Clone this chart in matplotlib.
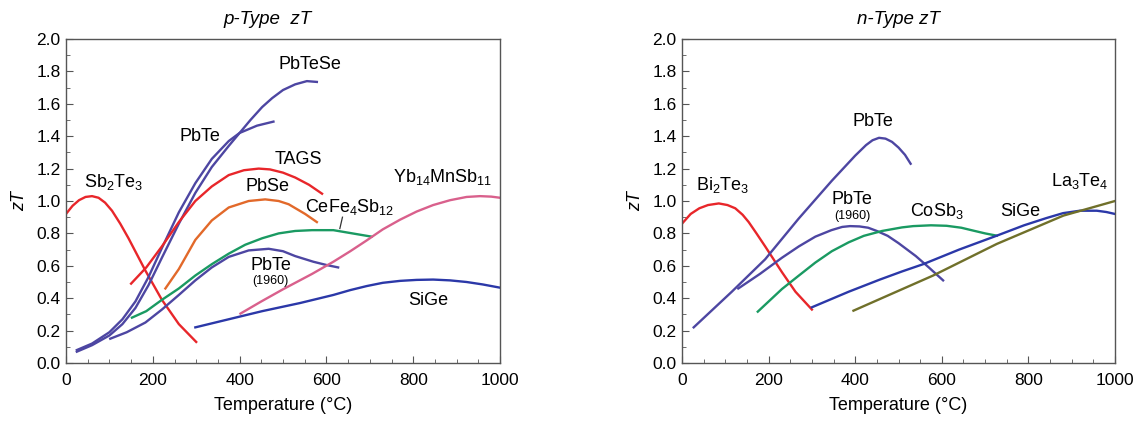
import matplotlib
matplotlib.use("Agg")
import matplotlib.pyplot as plt
from matplotlib.ticker import MultipleLocator, FormatStrFormatter

plt.rcParams['font.family'] = ['Liberation Sans', 'DejaVu Sans']
plt.rcParams['mathtext.fontset'] = 'custom'
plt.rcParams['mathtext.rm'] = 'Liberation Sans'
plt.rcParams['mathtext.it'] = 'Liberation Sans:italic'

# ---- p-type curves: temperature (C) and zT ----
sb2te3_t = [0, 15, 30, 45, 60, 75, 90, 106, 125, 144, 183, 221, 260, 300]
sb2te3_z = [0.92, 0.97, 1.005, 1.025, 1.03, 1.02, 0.99, 0.94, 0.86, 0.77, 0.57, 0.39,
            0.24, 0.13]

pbtese_t = [25, 60, 100, 130, 160, 190, 221, 260, 298, 336, 375, 400, 425, 452, 475,
            500, 528, 555, 578]
pbtese_z = [0.07, 0.11, 0.17, 0.24, 0.34, 0.48, 0.65, 0.86, 1.05, 1.21, 1.34, 1.42,
            1.50, 1.58, 1.635, 1.685, 1.72, 1.74, 1.735]

pbte_p_t = [25, 60, 100, 130, 160, 190, 221, 260, 298, 336, 375, 400, 440, 478]
pbte_p_z = [0.08, 0.12, 0.19, 0.27, 0.38, 0.53, 0.71, 0.93, 1.11, 1.26, 1.37, 1.42,
            1.465, 1.49]

tags_t = [150, 185, 221, 260, 298, 336, 375, 410, 444, 470, 500, 528, 560, 590]
tags_z = [0.49, 0.59, 0.72, 0.87, 1.00, 1.09, 1.16, 1.19, 1.20, 1.195, 1.175, 1.145,
          1.10, 1.045]

pbse_t = [229, 260, 298, 336, 375, 421, 459, 490, 513, 551, 578]
pbse_z = [0.46, 0.58, 0.76, 0.88, 0.96, 1.00, 1.01, 1.00, 0.98, 0.92, 0.87]

cefe_t = [152, 185, 221, 260, 298, 336, 375, 413, 452, 490, 528, 567, 616, 660, 704]
cefe_z = [0.28, 0.32, 0.39, 0.46, 0.54, 0.61, 0.675, 0.73, 0.77, 0.80, 0.815, 0.82,
          0.82, 0.80, 0.78]

pbte60_p_t = [102, 140, 183, 221, 260, 298, 336, 375, 421, 467, 500, 528, 570, 600, 627]
pbte60_p_z = [0.15, 0.19, 0.25, 0.33, 0.42, 0.51, 0.59, 0.655, 0.695, 0.705, 0.69,
              0.66, 0.625, 0.605, 0.59]

yb_t = [402, 450, 500, 567, 616, 655, 693, 730, 770, 808, 846, 885, 923, 954, 980, 1000]
yb_z = [0.305, 0.38, 0.455, 0.55, 0.625, 0.69, 0.757, 0.825, 0.885, 0.935, 0.975,
        1.005, 1.025, 1.03, 1.027, 1.02]

sige_p_t = [298, 375, 452, 539, 616, 655, 693, 730, 770, 808, 846, 885, 923, 960, 1000]
sige_p_z = [0.22, 0.27, 0.32, 0.37, 0.42, 0.45, 0.475, 0.495, 0.507, 0.513, 0.515,
            0.51, 0.50, 0.485, 0.465]

# ---- n-type curves ----
bi2te3_t = [0, 20, 40, 60, 85, 105, 123, 140, 154, 172, 192, 231, 262, 300]
bi2te3_z = [0.86, 0.92, 0.955, 0.975, 0.985, 0.975, 0.955, 0.915, 0.87, 0.80, 0.72,
            0.56, 0.44, 0.33]

pbte_n_t = [27, 115, 192, 269, 346, 400, 425, 440, 455, 470, 485, 500, 515, 528]
pbte_n_z = [0.22, 0.44, 0.64, 0.89, 1.125, 1.28, 1.345, 1.375, 1.39, 1.385, 1.365,
            1.33, 1.285, 1.23]

pbte60_n_t = [130, 180, 231, 270, 308, 345, 370, 388, 410, 430, 450, 475, 500, 540,
              570, 603]
pbte60_n_z = [0.46, 0.55, 0.65, 0.72, 0.78, 0.82, 0.84, 0.845, 0.843, 0.835, 0.815,
              0.785, 0.74, 0.66, 0.59, 0.51]

cosb_t = [175, 231, 270, 308, 346, 385, 420, 462, 508, 534, 575, 611, 645, 673, 700, 727]
cosb_z = [0.317, 0.457, 0.54, 0.62, 0.69, 0.745, 0.785, 0.815, 0.837, 0.845, 0.85,
          0.847, 0.835, 0.817, 0.80, 0.786]

sige_n_t = [300, 385, 457, 508, 557, 640, 727, 790, 842, 880, 919, 958, 980, 1000]
sige_n_z = [0.344, 0.44, 0.515, 0.565, 0.61, 0.70, 0.786, 0.85, 0.895, 0.925, 0.94,
            0.94, 0.932, 0.92]

la_t = [396, 457, 580, 727, 881, 1000]
la_z = [0.323, 0.395, 0.54, 0.735, 0.91, 1.00]

red = '#e8262a'
purple = '#4d46a2'
blue = '#2b38a8'
orange = '#e2692a'
green = '#1a9a62'
pink = '#d9608c'
olive = '#70702a'

fig = plt.figure(figsize=(11.39, 4.23), dpi=100)
ax1 = fig.add_axes([66 / 1139, 60 / 423, 434 / 1139, 324 / 423])
ax2 = fig.add_axes([682 / 1139, 60 / 423, 433 / 1139, 324 / 423])


def style(ax):
    ax.set_xlim(0, 1000)
    ax.set_ylim(0, 2.0)
    ax.xaxis.set_major_locator(MultipleLocator(200))
    ax.xaxis.set_minor_locator(MultipleLocator(50))
    ax.yaxis.set_major_locator(MultipleLocator(0.2))
    ax.yaxis.set_minor_locator(MultipleLocator(0.1))
    ax.yaxis.set_major_formatter(FormatStrFormatter('%.1f'))
    ax.tick_params(which='both', direction='in', labelsize=12.5, color='#555555',
                   top=False, right=False)
    ax.tick_params(which='major', length=5)
    ax.tick_params(which='minor', length=3)
    ax.tick_params(axis='x', which='major', pad=7)
    ax.tick_params(axis='y', which='major', pad=4)
    for s in ax.spines.values():
        s.set_color('#555555')
        s.set_linewidth(1.0)
    ax.set_xlabel('Temperature (°C)', fontsize=13, labelpad=7)
    ax.set_ylabel('zT', fontsize=13, style='italic', labelpad=6)


lw = 1.7
fs = 13

style(ax1)
ax1.plot(sb2te3_t, sb2te3_z, color=red, lw=lw)
ax1.plot(pbtese_t, pbtese_z, color=purple, lw=lw)
ax1.plot(pbte_p_t, pbte_p_z, color=purple, lw=lw)
ax1.plot(tags_t, tags_z, color=red, lw=lw)
ax1.plot(pbse_t, pbse_z, color=orange, lw=lw)
ax1.plot(cefe_t, cefe_z, color=green, lw=lw)
ax1.plot(pbte60_p_t, pbte60_p_z, color=purple, lw=lw)
ax1.plot(yb_t, yb_z, color=pink, lw=lw)
ax1.plot(sige_p_t, sige_p_z, color=blue, lw=lw)

ax1.text(561, 1.84, 'PbTeSe', fontsize=fs, ha='center', va='center')
ax1.text(309, 1.40, 'PbTe', fontsize=fs, ha='center', va='center')
ax1.text(535, 1.255, 'TAGS', fontsize=fs, ha='center', va='center')
ax1.text(109, 1.12, r'Sb$_2$Te$_3$', fontsize=fs, ha='center', va='center')
ax1.text(464, 1.09, 'PbSe', fontsize=fs, ha='center', va='center')
ax1.text(654, 0.96, r'CeFe$_4$Sb$_{12}$', fontsize=fs, ha='center', va='center')
ax1.plot([637, 631], [0.90, 0.83], color='#333333', lw=0.9)
ax1.text(869, 1.15, r'Yb$_{14}$MnSb$_{11}$', fontsize=fs, ha='center', va='center')
ax1.text(472, 0.60, 'PbTe', fontsize=fs, ha='center', va='center')
ax1.text(472, 0.505, '(1960)', fontsize=9, ha='center', va='center')
ax1.text(835, 0.385, 'SiGe', fontsize=fs, ha='center', va='center')
ax1.text(0.464, 1.035, 'p-Type  zT', transform=ax1.transAxes, fontsize=13.5,
         style='italic', ha='center', va='bottom')

style(ax2)
ax2.plot(bi2te3_t, bi2te3_z, color=red, lw=lw)
ax2.plot(pbte_n_t, pbte_n_z, color=purple, lw=lw)
ax2.plot(pbte60_n_t, pbte60_n_z, color=purple, lw=lw)
ax2.plot(cosb_t, cosb_z, color=green, lw=lw)
ax2.plot(sige_n_t, sige_n_z, color=blue, lw=lw)
ax2.plot(la_t, la_z, color=olive, lw=lw)

ax2.text(441, 1.49, 'PbTe', fontsize=fs, ha='center', va='center')
ax2.text(93, 1.10, r'Bi$_2$Te$_3$', fontsize=fs, ha='center', va='center')
ax2.text(393, 1.01, 'PbTe', fontsize=fs, ha='center', va='center')
ax2.text(393, 0.91, '(1960)', fontsize=9, ha='center', va='center')
ax2.text(588, 0.94, r'CoSb$_3$', fontsize=fs, ha='center', va='center')
ax2.text(781, 0.936, 'SiGe', fontsize=fs, ha='center', va='center')
ax2.text(919, 1.125, r'La$_3$Te$_4$', fontsize=fs, ha='center', va='center')
ax2.text(0.5, 1.035, 'n-Type zT', transform=ax2.transAxes, fontsize=13.5,
         style='italic', ha='center', va='bottom')

fig.savefig('out.png', dpi=100)
